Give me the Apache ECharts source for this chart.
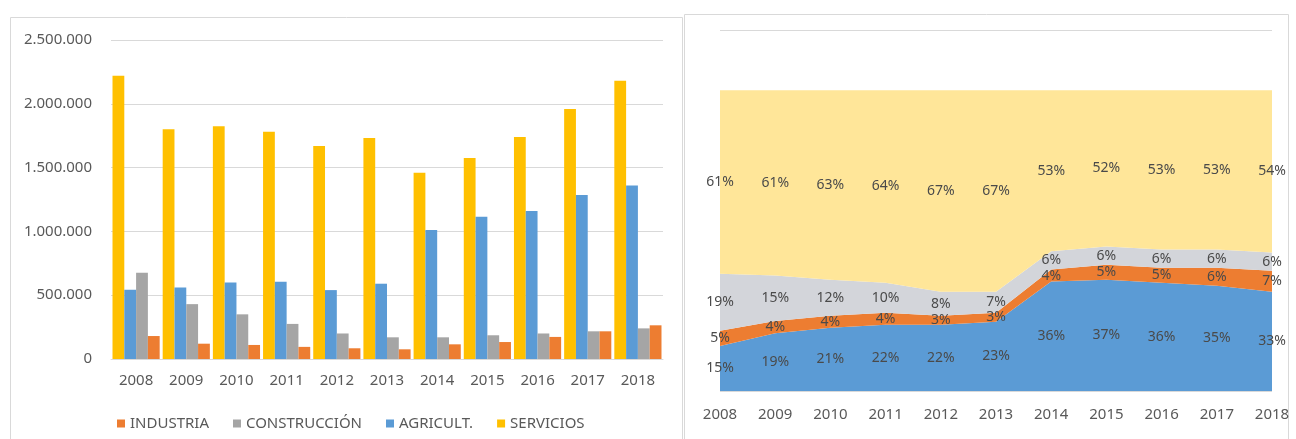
<!DOCTYPE html>
<html>
<head>
<meta charset="utf-8">
<script src="https://cdn.jsdelivr.net/npm/echarts@6/dist/echarts.min.js"></script>
<style>
html,body{margin:0;padding:0;background:#fff;}
#c{width:1296px;height:439px;}
</style>
</head>
<body>
<div id="c"></div>
<script>
var years = ['2008','2009','2010','2011','2012','2013','2014','2015','2016','2017','2018'];
var servicios    = [2220000,1800000,1825000,1780000,1670000,1732000,1460000,1575000,1740000,1960000,2180000];
var agricult     = [542000,560000,600000,605000,540000,590000,1010000,1115000,1160000,1285000,1360000];
var construccion = [676000,430000,350000,275000,200000,170000,170000,186000,200000,217000,240000];
var industria    = [180000,120000,110000,95000,84000,76000,115000,133000,173000,217000,264000];

var pctAgr  = [15,19,21,22,22,23,36,37,36,35,33];
var pctInd  = [5,4,4,4,3,3,4,5,5,6,7];
var pctCons = [19,15,12,10,8,7,6,6,6,6,6];
var pctServ = [61,61,63,64,67,67,53,52,53,53,54];

function fmt(v){ return String(v).replace(/\B(?=(\d{3})+(?!\d))/g,'.'); }

// 100% stacked: normalise each year's shares
var stackOrder = [pctAgr, pctInd, pctCons, pctServ];
var norm = stackOrder.map(function(){return [];});
years.forEach(function(y,i){
  var s = 0; stackOrder.forEach(function(a){ s += a[i]; });
  stackOrder.forEach(function(a,k){ norm[k].push(a[i]*100/s); });
});
var labelData = [];
years.forEach(function(y,i){
  var cum = 0;
  stackOrder.forEach(function(a,k){
    var h = norm[k][i];
    labelData.push([i, cum + h/2, a[i]]);
    cum += h;
  });
});

var F = 'Noto Sans';
var TC = '#595959';
var chart = echarts.init(document.getElementById('c'), null, {renderer:'canvas'});
chart.setOption({
  animation:false,
  textStyle:{fontFamily:F},
  color:['#FFC000','#5B9BD5','#A5A5A5','#ED7D31'],
  graphic:[
    {type:'rect', shape:{x:10.5,y:17.5,width:672,height:440}, style:{fill:'none',stroke:'#D9D9D9',lineWidth:1}, silent:true},
    {type:'rect', shape:{x:684.5,y:14.5,width:604,height:440}, style:{fill:'none',stroke:'#D9D9D9',lineWidth:1}, silent:true}
  ],
  legend:{
    left:112, top:411, icon:'rect', itemWidth:8, itemHeight:8, itemGap:24,
    textStyle:{color:TC,fontSize:15,fontFamily:F},
    data:['INDUSTRIA','CONSTRUCCIÓN','AGRICULT.','SERVICIOS']
  },
  grid:[
    {left:111, right:633, top:40, bottom:80},
    {left:720, right:24, top:30, bottom:48}
  ],
  xAxis:[
    {gridIndex:0, type:'category', data:years,
     axisLine:{show:true,lineStyle:{color:'#D9D9D9'}}, axisTick:{show:false},
     axisLabel:{color:TC,fontSize:15,margin:14,fontFamily:F}},
    {gridIndex:1, type:'category', data:years, boundaryGap:false,
     axisLine:{show:false}, axisTick:{show:false},
     axisLabel:{color:TC,fontSize:15,margin:16,fontFamily:F}}
  ],
  yAxis:[
    {gridIndex:0, type:'value', min:0, max:2500000, interval:500000,
     axisLine:{show:false}, axisTick:{show:false},
     axisLabel:{color:TC,fontSize:15,margin:19,fontFamily:F,formatter:function(v){return fmt(v);}},
     splitLine:{lineStyle:{color:'#D9D9D9'}}},
    {gridIndex:1, type:'value', min:0, max:120, interval:120,
     axisLine:{show:false}, axisTick:{show:false}, axisLabel:{show:false},
     splitLine:{lineStyle:{color:'#D9D9D9'}}}
  ],
  series:[
    {name:'SERVICIOS', type:'bar', xAxisIndex:0, yAxisIndex:0, data:servicios, barGap:'0%', barCategoryGap:'6%', itemStyle:{color:'#FFC000'}},
    {name:'AGRICULT.', type:'bar', xAxisIndex:0, yAxisIndex:0, data:agricult, itemStyle:{color:'#5B9BD5'}},
    {name:'CONSTRUCCIÓN', type:'bar', xAxisIndex:0, yAxisIndex:0, data:construccion, itemStyle:{color:'#A5A5A5'}},
    {name:'INDUSTRIA', type:'bar', xAxisIndex:0, yAxisIndex:0, data:industria, itemStyle:{color:'#ED7D31'}},

    {name:'a_agr', type:'line', xAxisIndex:1, yAxisIndex:1, stack:'pct', data:norm[0], symbol:'none', lineStyle:{width:0}, areaStyle:{color:'#5B9BD5',opacity:1}, z:2},
    {name:'a_ind', type:'line', xAxisIndex:1, yAxisIndex:1, stack:'pct', data:norm[1], symbol:'none', lineStyle:{width:0}, areaStyle:{color:'#ED7D31',opacity:1}, z:2},
    {name:'a_cons', type:'line', xAxisIndex:1, yAxisIndex:1, stack:'pct', data:norm[2], symbol:'none', lineStyle:{width:0}, areaStyle:{color:'#D3D5DA',opacity:1}, z:2},
    {name:'a_serv', type:'line', xAxisIndex:1, yAxisIndex:1, stack:'pct', data:norm[3], symbol:'none', lineStyle:{width:0}, areaStyle:{color:'#FFE699',opacity:1}, z:2},
    {name:'lbl', type:'scatter', xAxisIndex:1, yAxisIndex:1, data:labelData, symbolSize:1, silent:true, z:20, clip:false,
     itemStyle:{color:'rgba(0,0,0,0)'},
     label:{show:true, position:'inside', color:'#4A4A4A', opacity:1, fontSize:14, fontFamily:F,
            formatter:function(p){return p.value[2]+'%';}},
     labelLayout:{hideOverlap:false}}
  ]
});
</script>
</body>
</html>
